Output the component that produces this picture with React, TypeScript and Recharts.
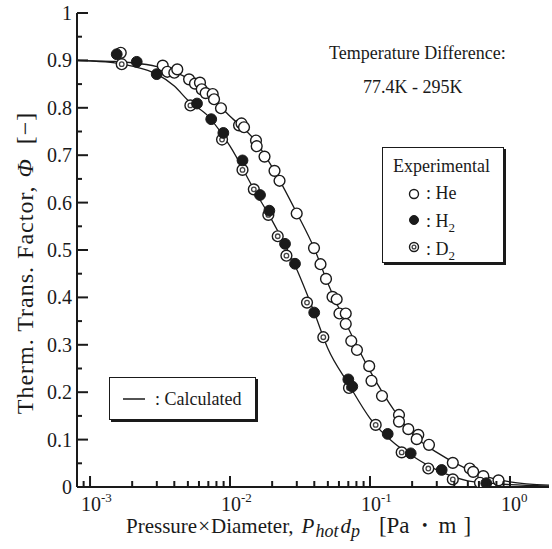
import React from 'react';
import { ScatterChart, Scatter, XAxis, YAxis } from 'recharts';

const SERIF = '"Liberation Serif", "Times New Roman", serif';
const INK = '#1a1a1a';

// Experimental: He (open circles)
const heX = [
  1.657e-3, 3.306e-3, 3.565e-3, 4.0e-3, 4.2e-3, 5.1e-3, 5.62e-3, 6.1e-3, 6.28e-3, 6.7e-3,
  7.52e-3, 7.69e-3, 8.62e-3, 1.16e-2, 1.208e-2, 1.259e-2, 1.533e-2, 1.551e-2, 1.764e-2, 2.079e-2,
  2.258e-2, 2.995e-2, 3.981e-2, 4.43e-2, 4.85e-2, 5.4e-2, 5.78e-2, 6.05e-2, 6.71e-2, 6.71e-2,
  7.35e-2, 8.07e-2, 9.87e-2, 0.1025, 0.1218, 0.1611, 0.1611, 0.1878, 0.2213, 0.2156,
  0.2638, 0.3904, 0.5163, 0.5459, 0.6448, 0.6105, 0.8278,
];
const heY = [
  0.916, 0.889, 0.876, 0.874, 0.881, 0.86, 0.851, 0.853, 0.839, 0.831,
  0.829, 0.818, 0.799, 0.763, 0.767, 0.759, 0.731, 0.719, 0.697, 0.667,
  0.646, 0.577, 0.504, 0.47, 0.439, 0.401, 0.396, 0.366, 0.366, 0.344,
  0.308, 0.289, 0.255, 0.224, 0.192, 0.152, 0.138, 0.122, 0.11, 0.101,
  0.089, 0.051, 0.039, 0.032, 0.023, 0.009, 0.014,
];

// Experimental: H2 (filled circles)
const h2X = [
  1.551e-3, 2.156e-3, 2.995e-3, 5.81e-3, 7.34e-3, 8.96e-3, 1.228e-2, 1.638e-2, 1.909e-2, 2.471e-2,
  2.912e-2, 3.994e-2, 7.0e-2, 7.47e-2, 0.1338, 0.1953, 0.3252, 0.6771,
];
const h2Y = [
  0.913, 0.897, 0.871, 0.809, 0.776, 0.747, 0.689, 0.616, 0.583, 0.513,
  0.471, 0.368, 0.227, 0.212, 0.112, 0.071, 0.036, 0.008,
];

// Experimental: D2 (double circles)
const d2X = [
  1.684e-3, 5.21e-3, 8.77e-3, 1.228e-2, 1.479e-2, 1.878e-2, 2.192e-2, 2.529e-2, 3.548e-2, 4.64e-2,
  7.08e-2, 0.1098, 0.1684, 0.2609, 0.3904,
];
const d2Y = [
  0.892, 0.805, 0.733, 0.669, 0.628, 0.574, 0.529, 0.488, 0.389, 0.316,
  0.209, 0.131, 0.073, 0.039, 0.016,
];

// Calculated curves
const calcX = [
  8.07e-4, 1e-3, 1.5e-3, 2e-3, 3e-3, 4e-3, 5e-3, 7e-3, 1e-2, 1.5e-2, 2e-2, 3e-2,
  4e-2, 5e-2, 7e-2, 0.1, 0.15, 0.2, 0.3, 0.5, 0.7, 1.0, 1.9,
];
const calcHe = [
  0.9, 0.899, 0.898, 0.895, 0.887, 0.876, 0.862, 0.828, 0.782, 0.732, 0.675, 0.578,
  0.503, 0.43, 0.335, 0.245, 0.16, 0.112, 0.073, 0.037, 0.021, 0.011, 0.004,
];
const calcH2 = [
  0.9, 0.899, 0.895, 0.888, 0.871, 0.846, 0.816, 0.782, 0.719, 0.625, 0.562, 0.459,
  0.368, 0.292, 0.218, 0.145, 0.092, 0.066, 0.036, 0.013, 0.008, 0.005, 0.002,
];

const xTicks = [
  9e-4, 1e-3, 2e-3, 3e-3, 4e-3, 5e-3, 6e-3, 7e-3, 8e-3, 9e-3,
  1e-2, 2e-2, 3e-2, 4e-2, 5e-2, 6e-2, 7e-2, 8e-2, 9e-2,
  1e-1, 0.2, 0.3, 0.4, 0.5, 0.6, 0.7, 0.8, 0.9, 1,
];
const yTicks = [
  0, 0.05, 0.1, 0.15, 0.2, 0.25, 0.3, 0.35, 0.4, 0.45, 0.5,
  0.55, 0.6, 0.65, 0.7, 0.75, 0.8, 0.85, 0.9, 0.95, 1,
];

const pts = (xs: number[], ys: number[]) => xs.map((x, i) => ({ x, y: ys[i] }));
const heData = pts(heX, heY);
const h2Data = pts(h2X, h2Y);
const d2Data = pts(d2X, d2Y);
const heCurve = pts(calcX, calcHe);
const h2Curve = pts(calcX, calcH2);

const isDecade = (v: number) => Math.abs(Math.log10(v) - Math.round(Math.log10(v))) < 1e-6;
const isTenth = (v: number) => Math.abs(v * 10 - Math.round(v * 10)) < 1e-6;

const OpenDot = ({ cx, cy, r = 5.4 }: any) => (
  <circle cx={cx} cy={cy} r={r} fill="#fff" stroke={INK} strokeWidth={1.4} />
);
const FilledDot = ({ cx, cy, r = 5.4 }: any) => (
  <circle cx={cx} cy={cy} r={r} fill={INK} stroke={INK} strokeWidth={1} />
);
const DoubleDot = ({ cx, cy, r = 5.4 }: any) => (
  <g>
    <circle cx={cx} cy={cy} r={r} fill="#fff" stroke={INK} strokeWidth={1.4} />
    <circle cx={cx} cy={cy} r={r * 0.42} fill="#fff" stroke="#444" strokeWidth={1.3} />
  </g>
);
const NoDot = () => <g />;

function BottomTick({ x, y, payload }: any) {
  const v = payload.value;
  const major = isDecade(v);
  const exp = Math.round(Math.log10(v));
  return (
    <g>
      <line x1={x} x2={x} y1={y} y2={y - (major ? 11 : 6)} stroke={INK} strokeWidth={2} />
      {major && (
        <text x={x - 9} y={y + 24} fontSize={20} fontFamily={SERIF} fill={INK}>
          10
          <tspan dy={-9} fontSize={13}>{String(exp)}</tspan>
        </text>
      )}
    </g>
  );
}

function TopTick({ x, y, payload }: any) {
  const major = isDecade(payload.value);
  return <line x1={x} x2={x} y1={y} y2={y + (major ? 11 : 6)} stroke={INK} strokeWidth={2} />;
}

function LeftTick({ x, y, payload }: any) {
  const v = payload.value;
  const major = isTenth(v);
  const label = v === 0 ? '0' : v === 1 ? '1' : v.toFixed(1);
  return (
    <g>
      <line x1={x} x2={x + (major ? 11 : 5)} y1={y} y2={y} stroke={INK} strokeWidth={2} />
      {major && (
        <text x={x - 5} y={y + 7} textAnchor="end" fontSize={20} fontFamily={SERIF} fill={INK}>
          {label}
        </text>
      )}
    </g>
  );
}

function RightTick({ x, y, payload }: any) {
  const major = isTenth(payload.value);
  return <line x1={x} x2={x - (major ? 11 : 5)} y1={y} y2={y} stroke={INK} strokeWidth={2} />;
}

const XTitle = ({ viewBox }: any) => {
  const x0 = viewBox.x + 49;
  const base = viewBox.y + 46;
  return (
    <text x={x0} y={base} fontSize={21} fontFamily={SERIF} fill={INK}>
      Pressure
      <tspan dx={1}>×</tspan>
      <tspan dx={1}>Diameter,</tspan>
      <tspan dx={8} fontStyle="italic">P</tspan>
      <tspan dy={4} dx={1} fontSize={18} fontStyle="italic">hot</tspan>
      <tspan dy={-4} dx={2} fontStyle="italic">d</tspan>
      <tspan dy={4} fontSize={18} fontStyle="italic">p</tspan>
      <tspan dy={-4} dx={19} fontSize={23}>[Pa</tspan>
      <tspan dx={3} fontSize={23}>・</tspan>
      <tspan dx={3} fontSize={23}>m</tspan>
      <tspan dx={7} fontSize={23}>]</tspan>
    </text>
  );
};

const YTitle = () => (
  <text
    x={33}
    y={263}
    textAnchor="middle"
    transform="rotate(-90, 33, 263)"
    fontSize={24}
    letterSpacing={1}
    fontFamily={SERIF}
    fill={INK}
  >
    Therm. Trans. Factor,
    <tspan dx={8} fontStyle="italic">Φ</tspan>
    <tspan dx={14}>[−]</tspan>
  </text>
);

const boxStyle: React.CSSProperties = {
  position: 'absolute',
  border: `1px solid ${INK}`,
  boxShadow: `2px 2px 0 ${INK}`,
  background: '#fff',
};

export default function App() {
  return (
    <div style={{ position: 'absolute', left: 0, top: 0, width: 552, height: 549, background: '#fff' }}>
      <ScatterChart width={552} height={549} margin={{ top: 13, right: 3, left: 0, bottom: 0 }}>
        <XAxis
          dataKey="x"
          type="number"
          scale="log"
          domain={[8.07e-4, 1.9]}
          allowDataOverflow
          ticks={xTicks}
          interval={0}
          height={62}
          tickSize={0}
          tickMargin={0}
          tickLine={false}
          axisLine={{ stroke: INK, strokeWidth: 2 }}
          tick={<BottomTick />}
          label={{ content: <XTitle /> }}
        />
        <XAxis
          xAxisId="top"
          orientation="top"
          dataKey="x"
          type="number"
          scale="log"
          domain={[8.07e-4, 1.9]}
          allowDataOverflow
          ticks={xTicks}
          interval={0}
          height={0}
          tickSize={0}
          tickMargin={0}
          tickLine={false}
          axisLine={{ stroke: INK, strokeWidth: 2 }}
          tick={<TopTick />}
        />
        <YAxis
          dataKey="y"
          type="number"
          domain={[0, 1]}
          allowDataOverflow
          ticks={yTicks}
          interval={0}
          width={77}
          tickSize={0}
          tickMargin={0}
          tickLine={false}
          axisLine={{ stroke: INK, strokeWidth: 2 }}
          tick={<LeftTick />}
          label={{ content: <YTitle /> }}
        />
        <YAxis
          yAxisId="right"
          orientation="right"
          dataKey="y"
          type="number"
          domain={[0, 1]}
          allowDataOverflow
          ticks={yTicks}
          interval={0}
          width={0}
          tickSize={0}
          tickMargin={0}
          tickLine={false}
          axisLine={{ stroke: INK, strokeWidth: 2 }}
          tick={<RightTick />}
        />
        <Scatter
          xAxisId="top"
          yAxisId="right"
          data={heCurve}
          line={{ stroke: INK, strokeWidth: 1.3 }}
          lineJointType="monotoneX"
          shape={<NoDot />}
          isAnimationActive={false}
        />
        <Scatter
          xAxisId="top"
          yAxisId="right"
          data={h2Curve}
          line={{ stroke: INK, strokeWidth: 1.3 }}
          lineJointType="monotoneX"
          shape={<NoDot />}
          isAnimationActive={false}
        />
        <Scatter data={heData} shape={<OpenDot />} isAnimationActive={false} />
        <Scatter data={d2Data} shape={<DoubleDot />} isAnimationActive={false} />
        <Scatter data={h2Data} shape={<FilledDot />} isAnimationActive={false} />
      </ScatterChart>

      <div style={{ position: 'absolute', left: 329, top: 36, fontFamily: SERIF, fontSize: 18, color: INK, lineHeight: '34px' }}>
        <div>Temperature Difference:</div>
        <div style={{ paddingLeft: 34 }}>77.4K - 295K</div>
      </div>

      <div style={{ ...boxStyle, left: 382, top: 147, width: 120, height: 114 }}>
        <svg width={120} height={114} style={{ position: 'absolute', left: 0, top: 0 }}>
          <text x={10} y={24} fontSize={18} fontFamily={SERIF} fill={INK}>Experimental</text>
          <OpenDot cx={31} cy={46} r={4.5} />
          <text x={43} y={51} fontSize={18} fontFamily={SERIF} fill={INK}>: He</text>
          <FilledDot cx={31} cy={72} r={4.5} />
          <text x={43} y={79} fontSize={18} fontFamily={SERIF} fill={INK}>
            : H<tspan dy={5} fontSize={13}>2</tspan>
          </text>
          <DoubleDot cx={31} cy={99} r={4.5} />
          <text x={43} y={107} fontSize={18} fontFamily={SERIF} fill={INK}>
            : D<tspan dy={5} fontSize={13}>2</tspan>
          </text>
        </svg>
      </div>

      <div style={{ ...boxStyle, left: 109, top: 377, width: 145, height: 41 }}>
        <svg width={145} height={41} style={{ position: 'absolute', left: 0, top: 0 }}>
          <line x1={13} x2={35} y1={21} y2={21} stroke={INK} strokeWidth={1.5} />
          <text x={45} y={27} fontSize={18} fontFamily={SERIF} fill={INK}>: Calculated</text>
        </svg>
      </div>
    </div>
  );
}
